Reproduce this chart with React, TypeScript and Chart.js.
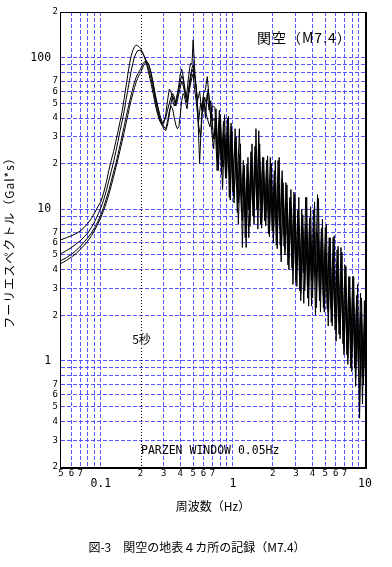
import { useEffect, useRef } from 'react';
import { Chart, registerables } from 'chart.js';

Chart.register(...registerables);

// ---- data ----
const freqSmoothHz = [
  0.05, 0.055, 0.06, 0.065, 0.07, 0.075, 0.08, 0.085, 0.09, 0.095,
  0.1, 0.105, 0.11, 0.115, 0.12, 0.125, 0.13, 0.135, 0.14, 0.145,
  0.15, 0.155, 0.16, 0.165, 0.17, 0.175, 0.18, 0.185, 0.19, 0.195,
  0.2, 0.21, 0.22, 0.23, 0.24, 0.25, 0.26, 0.27, 0.28, 0.29,
  0.3, 0.31, 0.32, 0.33, 0.34, 0.35, 0.36, 0.37, 0.38, 0.39,
  0.4, 0.41, 0.42, 0.43, 0.44, 0.45, 0.46, 0.47, 0.48, 0.49,
  0.5,
];
// sample frequencies of the noisy part (sites A, C)
const freqNoisyHz = [
  0.52, 0.54, 0.56, 0.58, 0.6, 0.62, 0.64, 0.66, 0.68, 0.7,
  0.73, 0.76, 0.79, 0.82, 0.85, 0.88, 0.91, 0.94, 0.97, 1.0,
  1.04, 1.08, 1.12, 1.16, 1.2, 1.24, 1.28, 1.32, 1.37, 1.42,
  1.47, 1.52, 1.57, 1.62, 1.68, 1.74, 1.8, 1.86, 1.92, 1.99,
  2.06, 2.13, 2.2, 2.28, 2.36, 2.44, 2.52, 2.61, 2.7, 2.8,
  2.9, 3.0, 3.1, 3.21, 3.32, 3.44, 3.56, 3.68, 3.81, 3.94,
  4.08, 4.22, 4.37, 4.52, 4.68, 4.84, 5.01, 5.18, 5.36, 5.55,
  5.74, 5.94, 6.15, 6.36, 6.58, 6.81, 7.05, 7.29, 7.54, 7.8,
  8.07, 8.35, 8.64, 8.94, 9.25, 9.57, 9.9, 10.0,
];
// sample frequencies of the noisy part (sites B, D)
const freqNoisyAltHz = [
  0.51, 0.53, 0.55, 0.57, 0.59, 0.61, 0.63, 0.65, 0.67, 0.69,
  0.715, 0.745, 0.775, 0.805, 0.835, 0.865, 0.895, 0.925, 0.955, 0.985,
  1.02, 1.06, 1.1, 1.14, 1.18, 1.22, 1.26, 1.3, 1.345, 1.395,
  1.445, 1.495, 1.545, 1.595, 1.65, 1.71, 1.77, 1.83, 1.89, 1.955,
  2.025, 2.095, 2.165, 2.24, 2.32, 2.4, 2.48, 2.565, 2.655, 2.75,
  2.85, 2.95, 3.05, 3.155, 3.265, 3.38, 3.5, 3.62, 3.745, 3.875,
  4.01, 4.15, 4.295, 4.445, 4.6, 4.76, 4.925, 5.095, 5.27, 5.455,
  5.645, 5.84, 6.045, 6.255, 6.47, 6.695, 6.93, 7.17, 7.415, 7.67,
  7.935, 8.21, 8.495, 8.79, 9.095, 9.41, 9.735, 10.0,
];

const siteASmooth = [
  6.3, 6.5, 6.7, 6.9, 7.2, 7.6, 8.1, 8.7, 9.5, 10.4,
  11.2, 12.8, 15, 18, 21, 24, 28, 32.5, 38, 44,
  53, 64, 77, 91, 103, 112, 118, 121, 120, 118,
  115, 106, 94, 80, 68, 57, 48, 42, 38, 36,
  37, 42, 52, 62, 60, 52, 48, 52, 58, 66,
  78, 84, 76, 62, 55, 60, 72, 85, 92, 90,
  131,
];
const siteANoisy = [
  70, 52, 60, 45, 58, 62, 75, 55, 40, 48,
  47, 23, 45, 21, 38, 16, 40, 19, 35, 13,
  34, 14, 34, 11, 21, 6.5, 20, 10, 24, 10.5,
  26, 10, 33, 11, 22, 8.4, 21, 9.4, 22, 7.2,
  18, 8, 21, 5.8, 16, 6.7, 15, 5.1, 12, 4.9,
  13, 4.0, 9.9, 2.9, 10, 3.8, 12, 3.1, 8.8, 2.3,
  9.9, 3.6, 12.5, 2.5, 7.5, 2.7, 7.6, 2.2, 6.5, 2.2,
  6.5, 1.6, 5.4, 1.8, 5.6, 1.3, 4.3, 1.1, 3.6, 1.2,
  3.6, 0.9, 2.7, 0.88, 2.8, 0.52, 2.5, 1.1,
];

const siteBSmooth = [
  5.1, 5.35, 5.6, 5.9, 6.2, 6.6, 7.0, 7.6, 8.3, 9.2,
  10.2, 11.5, 13.2, 15.4, 17.8, 20.5, 24, 28, 33, 38,
  44, 52, 61, 71, 82, 92, 101, 107, 111, 112,
  111, 105, 96, 85, 73, 61, 51, 44, 39, 37,
  38, 40, 45, 50, 55, 58, 55, 50, 55, 62,
  70, 76, 72, 65, 58, 52, 60, 70, 78, 85,
  90,
];
const siteBNoisy = [
  80, 62, 38, 50, 44, 55, 50, 62, 48, 33,
  25, 46, 19.5, 42, 19, 42, 16, 41, 14, 33,
  11, 30, 11, 27, 5.6, 19.5, 7.5, 22, 7.7, 27,
  8, 34, 10, 27, 8.3, 22, 7.8, 22.5, 6.6, 20,
  7.2, 21, 5.5, 22, 5, 15, 5, 14.5, 4, 13.5,
  4.2, 12.5, 3.1, 12, 2.8, 9.2, 2.9, 12, 2.3, 10.4,
  2.6, 11.2, 2.25, 11.8, 2.1, 8.6, 2.1, 8, 2.1, 6.5,
  1.7, 6.7, 1.65, 5.7, 1.4, 5.2, 1.1, 4.2, 1.05, 3.6,
  0.85, 3.6, 0.77, 3.2, 0.49, 2.6, 0.77, 2.0,
];

const siteCSmooth = [
  4.6, 4.8, 5.05, 5.35, 5.7, 6.1, 6.5, 7.0, 7.6, 8.3,
  9.2, 10.3, 11.7, 13.3, 15.3, 17.6, 20, 23, 26.5, 30.5,
  35, 40, 45.5, 51, 57, 63, 69, 74, 78, 81,
  84, 92, 96, 91, 79, 65, 54, 46, 40, 36,
  34, 33, 36, 42, 50, 56, 52, 48, 52, 58,
  64, 70, 66, 60, 54, 50, 58, 66, 74, 80,
  84,
];
const siteCNoisy = [
  72, 48, 20, 42, 55, 40, 58, 45, 52, 38,
  40, 18, 39, 17, 32, 18, 35, 12, 37, 15.4,
  28, 9.5, 23, 9.6, 17, 9.1, 16, 6.5, 19.6, 9,
  21, 12, 25, 8, 19.5, 9.8, 18, 6.9, 15.6, 7.2,
  17, 5.8, 14.3, 7.4, 18, 5.7, 11.7, 4.3, 11.2, 4.1,
  9.8, 3.3, 9.3, 3.5, 7.8, 2.4, 8, 2.6, 8.3, 3.4,
  7.8, 2.0, 7, 2.9, 7, 2.25, 5.9, 2.4, 5.7, 1.8,
  4.8, 1.9, 4.5, 1.5, 3.9, 1.6, 3.6, 1.2, 2.9, 0.9,
  2.85, 1.1, 2.4, 0.8, 2.1, 0.78, 1.8, 0.9,
];

const siteDSmooth = [
  4.4, 4.6, 4.85, 5.1, 5.45, 5.8, 6.2, 6.7, 7.3, 8.0,
  8.8, 9.8, 11.0, 12.5, 14.3, 16.4, 18.8, 21.5, 24.5, 28,
  32, 36.5, 41.5, 47, 52.5, 58, 63.5, 68.5, 73, 77,
  79, 88, 94, 91, 80, 67, 56, 48, 42, 38,
  35, 34, 38, 44, 48, 46, 40, 36, 34, 35,
  42, 52, 58, 56, 50, 46, 55, 62, 68, 74,
  78,
];
const siteDNoisy = [
  65, 50, 36, 30, 46, 50, 42, 38, 35, 42,
  29, 40, 18, 36, 13.5, 31, 17.5, 31, 11.5, 26,
  12, 25, 8, 19, 8.4, 18, 5.6, 17, 8.4, 19.5,
  8.8, 24, 7.4, 21, 7.5, 18, 7.8, 16, 7.2, 17,
  6, 15, 6.6, 14.7, 4.5, 12.4, 5.4, 11, 4.8, 9.8,
  3.2, 8.6, 4, 7.5, 2.5, 7.6, 3.2, 6.8, 3.1, 6.8,
  3.1, 7.1, 2.75, 6.4, 2.8, 6.3, 2.1, 5.2, 1.7, 5,
  2.0, 4.2, 1.35, 4.2, 1.5, 3.4, 1.2, 3.1, 0.95, 2.6,
  1.05, 2.3, 0.68, 2.2, 0.42, 1.95, 0.7, 1.6,
];

const xTickValues = [0.05, 0.06, 0.07, 0.08, 0.09, 0.1, 0.2, 0.3, 0.4, 0.5, 0.6, 0.7, 0.8, 0.9, 1, 2, 3, 4, 5, 6, 7, 8, 9, 10];
const xTickLabels: (string | string[])[] = ['5', '6', '7', '', '', ['', '0.1'], '2', '3', '4', '5', '6', '7', '', '', ['', '1'], '2', '3', '4', '5', '6', '7', '', '', ['', '10']];
const yTickValues = [0.2, 0.3, 0.4, 0.5, 0.6, 0.7, 0.8, 0.9, 1, 2, 3, 4, 5, 6, 7, 8, 9, 10, 20, 30, 40, 50, 60, 70, 80, 90, 100, 200];
const yTickLabels = ['2', '3', '4', '5', '6', '7', '', '', '1 ', '2', '3', '4', '5', '6', '7', '', '', '10 ', '2', '3', '4', '5', '6', '7', '', '', '100 ', '2'];
const yDecadeValues = [1, 10, 100];
const periodMarkHz = 0.2; // 5 s

const freqA = [...freqSmoothHz, ...freqNoisyHz];
const freqB = [...freqSmoothHz, ...freqNoisyAltHz];
const sites = [
  { f: freqA, v: [...siteASmooth, ...siteANoisy] },
  { f: freqB, v: [...siteBSmooth, ...siteBNoisy] },
  { f: freqA, v: [...siteCSmooth, ...siteCNoisy] },
  { f: freqB, v: [...siteDSmooth, ...siteDNoisy] },
];

const BLUE = 'rgb(85,85,255)';
const CJK = '"Noto Sans CJK JP", sans-serif';
const MONO = '"DejaVu Sans Mono", monospace';

const decorPlugin = {
  id: 'decor',
  afterDraw(chart: any) {
    const { ctx, chartArea: a, scales } = chart;
    ctx.save();
    // 5-second marker line
    const px = Math.round(scales.x.getPixelForValue(periodMarkHz)) + 0.5;
    ctx.strokeStyle = '#000';
    ctx.lineWidth = 1;
    ctx.setLineDash([1, 2]);
    ctx.beginPath();
    ctx.moveTo(px, a.top);
    ctx.lineTo(px, a.bottom);
    ctx.stroke();
    ctx.setLineDash([]);

    // frame
    ctx.fillStyle = '#000';
    ctx.fillRect(a.left - 1, a.top, a.right - a.left + 3, 1);
    ctx.fillRect(a.left - 1, a.top, 1, a.bottom - a.top + 2);
    ctx.fillRect(a.right, a.top, 2, a.bottom - a.top + 2);
    ctx.fillRect(a.left - 1, a.bottom, a.right - a.left + 3, 2);

    // texts
    ctx.fillStyle = '#000';
    ctx.textBaseline = 'middle';

    ctx.font = `14px ${CJK}`;
    ctx.textAlign = 'left';
    (ctx as any).letterSpacing = '1px';
    ctx.fillText('関空（M7.4）', 257, 38);
    (ctx as any).letterSpacing = '0px';

    ctx.font = `12px ${CJK}`;
    ctx.textAlign = 'center';
    const w = ctx.measureText('5秒').width;
    ctx.fillStyle = '#fff';
    ctx.fillRect(px - w / 2 - 1, 332, w + 2, 14);
    ctx.fillStyle = '#000';
    ctx.fillText('5秒', px, 339);

    ctx.font = `11.5px ${MONO}`;
    ctx.textAlign = 'left';
    ctx.fillText('PARZEN WINDOW 0.05Hz', 141, 451);

    ctx.font = `12px ${CJK}`;
    ctx.textAlign = 'center';
    ctx.fillText('周波数（Hz）', 213, 506);

    ctx.fillText('図-3　関空の地表４カ所の記録（M7.4）', 197, 547);

    ctx.translate(9, 240);
    ctx.rotate(-Math.PI / 2);
    (ctx as any).letterSpacing = '1px';
    ctx.fillText('フーリエスペクトル（Gal*s）', 0, 0);
    ctx.restore();
  },
};

export default function App() {
  const ref = useRef<HTMLCanvasElement | null>(null);

  useEffect(() => {
    if (!ref.current) return;
    const chart = new Chart(ref.current, {
      type: 'line',
      data: {
        datasets: sites.map((s, k) => ({
          label: `site${k + 1}`,
          data: s.f.map((f, i) => ({ x: f, y: s.v[i] })),
          borderColor: '#000',
          borderWidth: 1,
          pointRadius: 0,
          fill: false,
          tension: 0,
        })),
      },
      options: {
        animation: false,
        responsive: false,
        events: [],
        layout: { padding: { left: 0, right: 27, top: 12, bottom: 0 } },
        plugins: { legend: { display: false }, tooltip: { enabled: false }, title: { display: false } },
        scales: {
          x: {
            type: 'logarithmic',
            min: 0.05,
            max: 10,
            bounds: 'data',
            afterBuildTicks: (scale: any) => {
              scale.ticks = xTickValues.map((v) => ({ value: v }));
            },
            afterFit: (scale: any) => {
              scale.height = 100;
            },
            ticks: {
              autoSkip: false,
              maxRotation: 0,
              minRotation: 0,
              padding: 2,
              color: '#000',
              callback: (_v: any, i: number) => xTickLabels[i],
              font: (ctx: any) =>
                Array.isArray(xTickLabels[ctx.index])
                  ? { family: MONO, size: 11.5, lineHeight: '10px' }
                  : { family: MONO, size: 9, lineHeight: '10px' },
            },
            grid: {
              drawTicks: false,
              lineWidth: 1,
              color: (ctx: any) => {
                const v = xTickValues[ctx.index];
                if (ctx.index === 0 || ctx.index === xTickValues.length - 1 || v === periodMarkHz) return 'rgba(0,0,0,0)';
                return BLUE;
              },
            },
            border: { display: false, dash: [4, 2] },
          },
          y: {
            type: 'logarithmic',
            min: 0.2,
            max: 200,
            bounds: 'data',
            afterBuildTicks: (scale: any) => {
              scale.ticks = yTickValues.map((v) => ({ value: v }));
            },
            afterFit: (scale: any) => {
              scale.width = 61;
            },
            ticks: {
              autoSkip: false,
              padding: 3,
              color: '#000',
              callback: (_v: any, i: number) => yTickLabels[i],
              font: (ctx: any) =>
                yDecadeValues.includes(yTickValues[ctx.index])
                  ? { family: MONO, size: 11.5 }
                  : { family: MONO, size: 9 },
            },
            grid: {
              drawTicks: false,
              lineWidth: 1,
              color: (ctx: any) =>
                ctx.index === 0 || ctx.index === yTickValues.length - 1 ? 'rgba(0,0,0,0)' : BLUE,
            },
            border: { display: false, dash: [4, 2] },
          },
        },
      },
      plugins: [decorPlugin],
    } as any);
    return () => chart.destroy();
  }, []);

  return (
    <div style={{ position: 'absolute', left: 0, top: 0, width: 392, height: 567, background: '#fff' }}>
      <canvas ref={ref} width={392} height={567} style={{ display: 'block' }} />
    </div>
  );
}
